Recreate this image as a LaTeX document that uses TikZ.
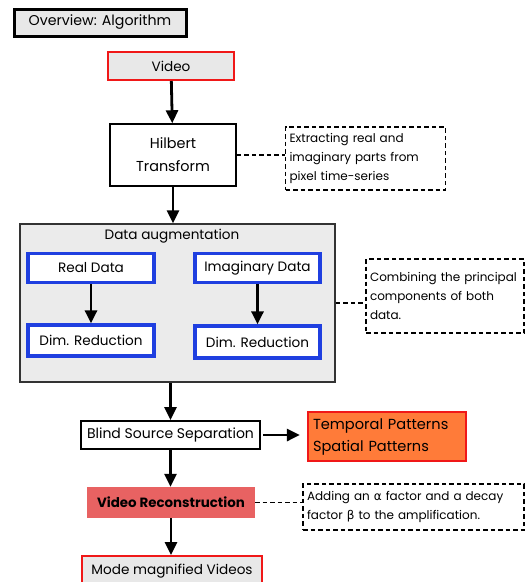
\documentclass[tikz,border=0pt]{standalone}
\usepackage{fontspec}
\setmainfont{Poppins}
\newfontfamily\grk{DejaVu Sans}
\usetikzlibrary{arrows.meta}
\definecolor{boxgray}{HTML}{E8E8E8}
\definecolor{auggray}{HTML}{EBEBEB}
\definecolor{frameblue}{HTML}{1F3FE0}
\definecolor{framered}{HTML}{F01818}
\definecolor{patorange}{HTML}{FF7B39}
\definecolor{recred}{HTML}{E86262}
\tikzset{
  every node/.style={inner sep=0pt, font=\fontsize{13.6}{16}\selectfont},
  flow/.style={-{Triangle[width=12pt,length=13pt]}, line width=2.8pt},
  dashline/.style={dash pattern=on 4.5pt off 3pt, line width=1.2pt},
  notelink/.style={dashline},
  note/.style={draw, dashline, align=left, text width=#1,
    font=\fontsize{12}{18.6}\selectfont},
  plainbox/.style={draw, line width=1.5pt, fill=white, align=center},
  redbox/.style={draw=framered, line width=2pt, fill=boxgray},
  bluebox/.style={draw=frameblue, line width=3.2pt, fill=white},
}
\begin{document}
\begin{tikzpicture}[x=1pt, y=-1pt]
\useasboundingbox (0,0) rectangle (526,582);
% title
\node[draw, line width=3pt, fill=boxgray, minimum width=172pt, minimum height=27pt, font=\fontsize{14.2}{16}\selectfont] (title) at (100,22.5) {Overview: Algorithm};
% main column
\node[redbox, minimum width=126pt, minimum height=28pt] (video) at (171,66) {Video};
\node[plainbox, minimum width=126pt, minimum height=62pt, font=\fontsize{14.4}{23}\selectfont] (hilbert) at (173,155) {Hilbert\\Transform};
\node[note=152pt, minimum height=63pt, inner xsep=4pt] (note1) at (365.5,158.5) {Extracting real and\\imaginary parts from\\pixel time-series};
% data augmentation block
\node[draw=black!80, line width=1.5pt, fill=auggray, minimum width=315pt, minimum height=158pt] (aug) at (177.5,303) {};
\node (augtitle) at (172,236) {Data augmentation};
\node[bluebox, minimum width=126pt, minimum height=29pt] (real) at (91,268) {Real Data};
\node[bluebox, minimum width=125pt, minimum height=29pt] (imag) at (257.5,268) {Imaginary Data};
\node[bluebox, minimum width=126pt, minimum height=31pt] (dimL) at (91,340.5) {Dim. Reduction};
\node[bluebox, minimum width=125pt, minimum height=32pt] (dimR) at (257.5,342) {Dim. Reduction};
\node[note=150pt, minimum height=74pt, inner xsep=4pt] (note2) at (445,296) {Combining the principal\\components of both\\data.};
% separation and outputs
\node[plainbox, line width=2pt, minimum width=179pt, minimum height=28pt, font=\fontsize{14}{16}\selectfont] (bss) at (170.5,435) {Blind Source Separation};
\node[draw=framered, line width=2.2pt, fill=patorange, minimum width=158pt, minimum height=49pt, text width=148pt, align=left, font=\fontsize{14.6}{22}\selectfont] (pat) at (387,436.5) {Temporal Patterns\\Spatial Patterns};
\node[fill=recred, minimum width=168pt, minimum height=31pt, font=\bfseries\fontsize{13.4}{16}\selectfont] (recon) at (171,502.5) {Video Reconstruction};
\node[note=213pt, minimum height=46pt, inner xsep=4pt] (note3) at (413.5,507) {Adding an {\grk α} factor and a decay\\factor {\grk β} to the amplification.};
\node[redbox, minimum width=180pt, minimum height=34pt] (mode) at (172,573) {};
\node (modetext) at (172,571) {Mode magnified Videos};
% connectors
\draw[flow] (video) -- (hilbert);
\draw[flow] (hilbert) -- (hilbert |- aug.north);
\draw[flow] (real) -- (dimL);
\draw[flow] (imag) -- (imag |- dimR.north);
\draw[flow] (aug.south -| bss.north) -- (bss);
\draw[flow] (bss.east) ++(2pt,0) coordinate (bssout) -- ([xshift=-7pt]pat.west |- bss.east);
\draw[flow] (bss) -- (bss |- recon.north);
\draw[flow] (recon) -- (recon |- mode.north);
\draw[notelink] (hilbert.east) -- (note1.west |- hilbert.east);
\draw[notelink] (aug.east) -- (note2.west |- aug.east);
\draw[notelink] (recon.east) -- (note3.west |- recon.east);
\end{tikzpicture}
\end{document}
